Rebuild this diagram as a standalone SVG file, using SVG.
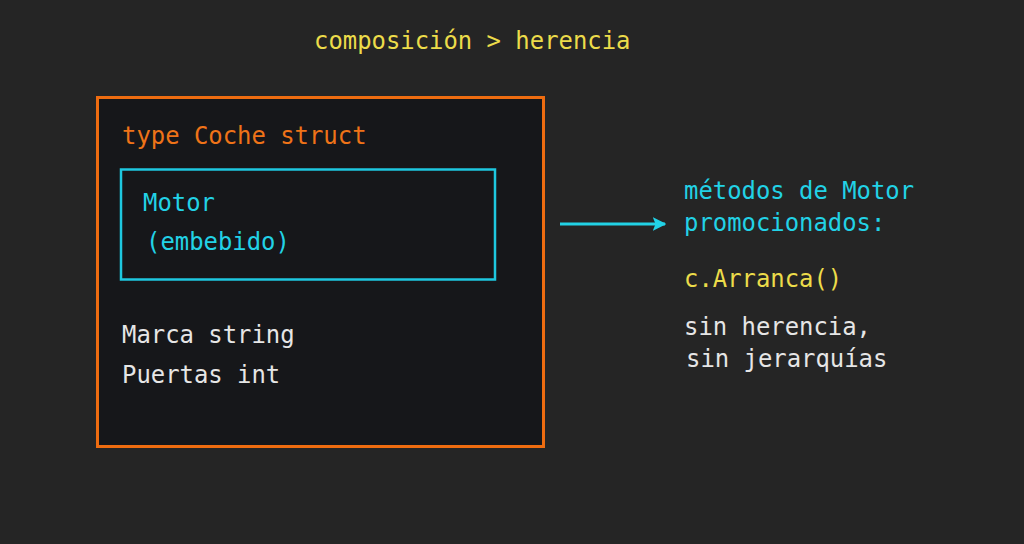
<svg xmlns="http://www.w3.org/2000/svg" width="1024" height="544" viewBox="0 0 1024 544">
<defs>
<style>
text{font-family:"DejaVu Sans Mono","Liberation Mono",monospace;font-size:23.9px}
.y{fill:#ecdc4a}.c{fill:#22d2e6}.w{fill:#e6e6e6}.o{fill:#ef7318}
</style>
<marker id="ah" viewBox="0 0 10 10" refX="9" refY="5" markerWidth="4.5" markerHeight="4.5" orient="auto" markerUnits="strokeWidth">
<path d="M0,0 L10,5 L0,10 L2,5 Z" fill="#22d2e6"/>
</marker>
</defs>
<rect width="1024" height="544" fill="#252525"/>
<text id="title" class="y" x="314" y="49">composición &gt; herencia</text>
<g id="coche">
<rect x="97.5" y="97.5" width="446" height="349" fill="#16171a" stroke="#ee6c10" stroke-width="3"/>
<text class="o" x="122" y="144">type Coche struct</text>
<text class="w" x="122" y="343">Marca string</text>
<text class="w" x="122" y="383">Puertas int</text>
</g>
<g id="motor">
<rect x="121" y="169.5" width="374" height="110" fill="#16171a" stroke="#1ec8e0" stroke-width="2.5"/>
<text class="c" x="143" y="211">Motor</text>
<text class="c" x="146" y="250">(embebido)</text>
</g>
<g id="connectors">
<line x1="560" y1="224" x2="665" y2="224" stroke="#22d2e6" stroke-width="3" marker-end="url(#ah)"/>
</g>
<g id="notes">
<text class="c" x="684" y="199">métodos de Motor</text>
<text class="c" x="684" y="231">promocionados:</text>
<text class="y" x="684" y="287">c.Arranca()</text>
<text class="w" x="684" y="335">sin herencia,</text>
<text class="w" x="686" y="367">sin jerarquías</text>
</g>
</svg>
